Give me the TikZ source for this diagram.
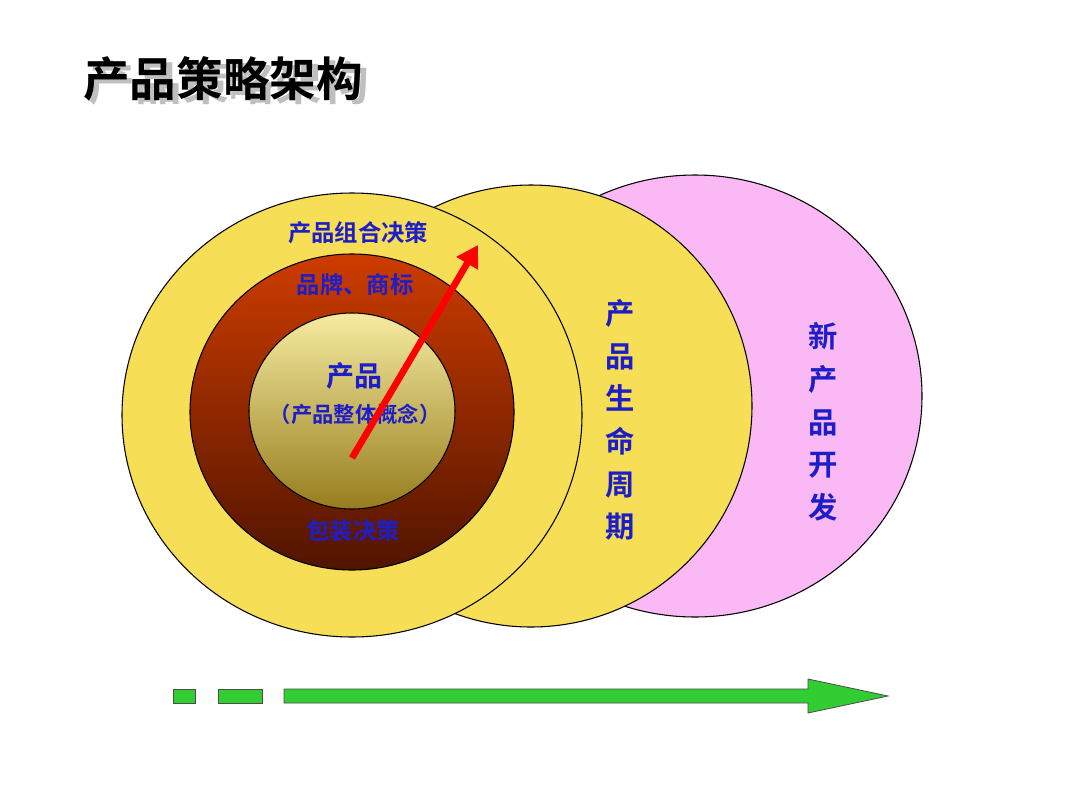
\documentclass[tikz,border=0pt]{standalone}
\usepackage{fontspec}
\newfontfamily\cjk{Noto Sans CJK SC}[BoldFont={Noto Sans CJK SC Bold}]
\usetikzlibrary{arrows.meta}
\definecolor{yel}{RGB}{246,222,86}
\definecolor{pinkc}{RGB}{250,185,245}
\definecolor{lblue}{RGB}{30,30,200}
\definecolor{grn}{RGB}{50,205,50}
\tikzset{
 circ/.style={draw=black,line width=0.8pt},
 lab/.style={text=lblue,font=\cjk\bfseries\fontsize{17.5}{19}\selectfont,inner sep=0pt},
 vlab/.style={text=lblue,font=\cjk\bfseries\fontsize{22}{32}\selectfont,align=center,inner sep=0pt},
 gbox/.style={fill=grn,draw=black!70,line width=0.6pt}
}
\begin{document}
\begin{tikzpicture}[x=0.75pt,y=-0.75pt]
\useasboundingbox (0,0) rectangle (1080,810);
\fill[white] (0,0) rectangle (1080,810);
\node[anchor=west,font=\cjk\bfseries\fontsize{35}{38}\selectfont,text=black!25] (title) at (84,81) {产品策略架构\rlap{\hspace{-6.04em}\raisebox{0.08em}{\hspace{-0.08em}\textcolor{black}{产品策略架构}}}};
\draw[circ,fill=pinkc] (695,396) ellipse (227 and 221);
\draw[circ,fill=yel] (531,406) ellipse (221 and 221);
\draw[circ,fill=yel] (352,415) ellipse (230 and 222);
\draw[circ,top color={rgb,255:red,205;green,60;blue,0},bottom color={rgb,255:red,80;green,20;blue,0}] (352,412) ellipse (162 and 158);
\draw[circ,top color={rgb,255:red,245;green,235;blue,160},bottom color={rgb,255:red,150;green,125;blue,30}] (352,411) ellipse (103 and 98);
\node[lab] (a) at (358,233) {产品组合决策};
\node[lab] (b) at (355,285) {品牌、商标};
\node[lab,font=\cjk\bfseries\fontsize{21}{23}\selectfont] (c) at (354,376) {产品};
\node[lab,font=\cjk\bfseries\fontsize{16}{18}\selectfont] (d) at (355,414) {（产品整体概念）};
\node[lab] (e) at (353,531) {包装决策};
\node[vlab] (f) at (620,420) {产\\品\\生\\命\\周\\期};
\node[vlab] (g) at (823,422) {新\\产\\品\\开\\发};
\coordinate (s) at (352,458);
\coordinate (t) at (478,245);
\draw[red,line width=5pt,-{Triangle[length=16pt,width=18pt]}] (s) -- (t);
\draw[gbox] (173,689) rectangle (195,703);
\draw[gbox] (218,689) rectangle (262,703);
\coordinate (ha) at (888,696);
\draw[gbox] (284,689) -- (808,689) -- (808,679) -- (ha) -- (808,713) -- (808,703) -- (284,703) -- cycle;
\end{tikzpicture}
\end{document}
